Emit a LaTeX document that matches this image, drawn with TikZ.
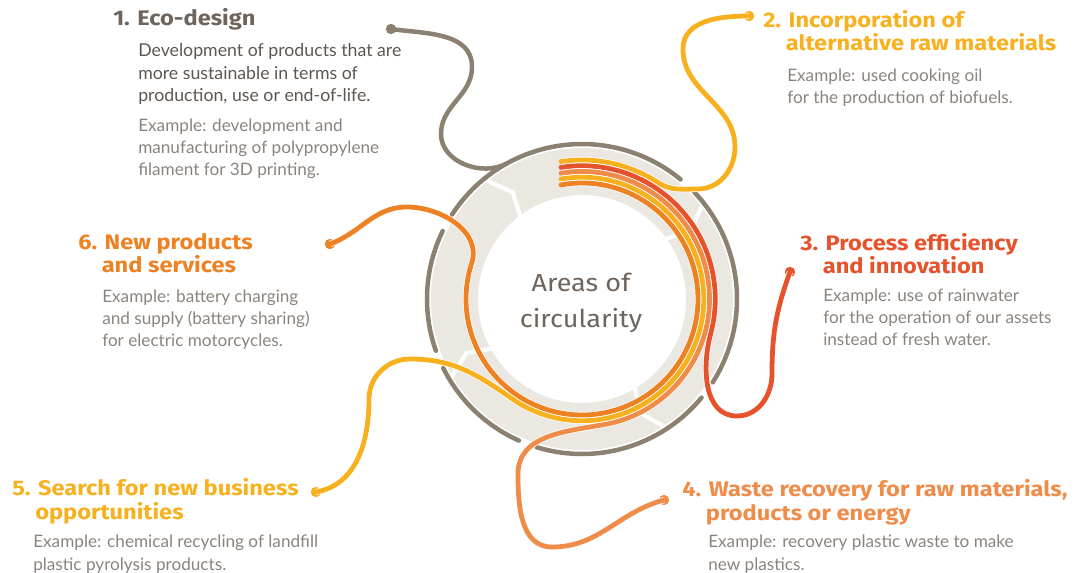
\documentclass[tikz,border=0pt]{standalone}
\usepackage{fontspec}
\setmainfont{Lato}
\newfontfamily\headfont[FakeStretch=1.12]{Fira Sans}
\newfontfamily\hubfont[FakeStretch=1.1]{Fira Sans}
\usetikzlibrary{calc}

\definecolor{ringGrey}{HTML}{8C8170}
\definecolor{bandBeige}{HTML}{EBE8E2}
\definecolor{lineYellow}{HTML}{F7B11F}
\definecolor{lineRed}{HTML}{E5522B}
\definecolor{lineLightOrange}{HTML}{F08C4A}
\definecolor{lineOrange}{HTML}{EE8122}
\definecolor{headGrey}{HTML}{6E645B}
\definecolor{textDark}{HTML}{5F564F}
\definecolor{textLight}{HTML}{8C837C}

\newcommand{\hangNum}[1]{\hphantom{#1 }\kern-2pt}

\begin{document}
\begin{tikzpicture}[
    x=0.025cm, y=0.025cm,
    ringArc/.style={
        draw=ringGrey,
        line width=3.2pt,
        line cap=round
    },
    flowLine/.style={
        line width=3.4pt,
        line cap=round,
        preaction={draw=white, line width=4.4pt}
    },
    endDot/.style={
        circle,
        inner sep=0pt,
        minimum size=0.26cm
    },
    heading/.style={
        anchor=base west,
        align=left,
        inner sep=0pt,
        font=\headfont\bfseries\fontsize{15pt}{16.5pt}\selectfont
    },
    bodyText/.style={
        anchor=base west,
        align=left,
        inner sep=0pt,
        text=textLight,
        font=\fontsize{12.2pt}{15.8pt}\selectfont
    },
    hubText/.style={
        align=center,
        text=headGrey,
        font=\hubfont\fontsize{17.5pt}{25.5pt}\selectfont
    }
]
\useasboundingbox (-582,-274) rectangle (506,299);

% ==================== CENTRE: BAND & RING ====================
\fill[bandBeige, even odd rule] (0,0) circle (151) (0,0) circle (104);
\foreach \t in {32,123,205,297}
    \draw[white, line width=3pt] (\t+6:153) -- (\t:127.5) -- (\t+4:102);
\foreach \a/\b in {50.5/147, 154/199.5, 206.5/246, 253/320.5, 327.5/403.5}
    \draw[ringArc] (\a:155) arc[start angle=\a, end angle=\b, radius=155];

\node[hubText] (hub) at (-1,-3.5) {Areas of\\circularity};

% ==================== END DOTS ====================
\node[endDot, fill=ringGrey] (dotEco) at (-191,270) {};
\node[endDot, fill=lineYellow] (dotRaw) at (167,283) {};
\node[endDot, fill=lineRed] (dotProcess) at (208,27) {};
\node[endDot, fill=lineLightOrange] (dotWaste) at (82,-201) {};
\node[endDot, fill=lineYellow] (dotBusiness) at (-266,-193) {};
\node[endDot, fill=lineOrange] (dotServices) at (-252,55) {};

\coordinate (ecoJoin) at (119:155);

% ==================== LEADER LINES ====================
\draw[ringArc] (dotEco.center) to[out=-8, in=90] (-110,232)
    to[out=-90, in=90] (-141,165) to[out=-90, in=209] (ecoJoin);

\draw[flowLine, draw=lineYellow] (98.7:139) arc[start angle=98.7, end angle=57, radius=139]
    to[out=-33, in=180] (116,110) to[out=0, in=-90] (153,152)
    to[out=90, in=-90] (101,250) to[out=90, in=180] (dotRaw.center);

\draw[flowLine, draw=lineRed] (99.07:133.25) arc[start angle=99.07, end angle=-15, radius=133.25]
    to[out=-105, in=180] (155,-117) to[out=0, in=-90] (190,-75)
    to[out=90, in=-110] (dotProcess.center);

\draw[flowLine, draw=lineLightOrange] (99.48:127.5) arc[start angle=99.48, end angle=-80, radius=127.5]
    to[out=-170, in=90] (-64,-175) to[out=-90, in=180] (-30,-248)
    to[out=0, in=195] (dotWaste.center);

\draw[flowLine, draw=lineYellow] (99.93:121.75) arc[start angle=99.93, end angle=-125, radius=121.75]
    to[out=145, in=0] (-172,-60) to[out=180, in=90] (-213,-100)
    to[out=-90, in=10] (dotBusiness.center);

\draw[flowLine, draw=lineOrange] (100.4:116) arc[start angle=100.4, end angle=-198, radius=116]
    to[out=72, in=0] (-175,92) to[out=180, in=20] (dotServices.center);

% ==================== TEXT BLOCKS ====================
\node[heading, text=headGrey] (headEco) at (-469,273) {1. Eco-design};
\node[bodyText, text=textDark, font=\fontsize{12.6pt}{16.3pt}\selectfont] (descEco) at (-444,197) {Development of products that are\\more sustainable in terms of\\production, use or end-of-life.};
\node[bodyText] (exEco) at (-444,123) {Example: development and\\manufacturing of polypropylene\\filament for 3D printing.};

\node[heading, text=lineYellow] (headRaw) at (181,248.5) {2. Incorporation of\\\hangNum{2.}alternative raw materials};
\node[bodyText] (exRaw) at (205,195) {Example: used cooking oil\\for the production of biofuels.};

\node[heading, text=lineRed] (headProcess) at (218,25.7) {3. Process efficiency\\\hangNum{3.}and innovation};
\node[bodyText] (exProcess) at (241,-47) {Example: use of rainwater\\for the operation of our assets\\instead of fresh water.};

\node[heading, text=lineLightOrange] (headWaste) at (100,-221) {4. Waste recovery for raw materials,\\\hangNum{4.}products or energy};
\node[bodyText] (exWaste) at (126,-271) {Example: recovery plastic waste to make\\new plastics.};

\node[heading, text=lineYellow] (headBusiness) at (-570,-220) {5. Search for new business\\\hangNum{5.}opportunities};
\node[bodyText] (exBusiness) at (-549,-271) {Example: chemical recycling of landfill\\plastic pyrolysis products.};

\node[heading, text=lineOrange] (headServices) at (-504,26) {6. New products\\\hangNum{6.}and services};
\node[bodyText] (exServices) at (-480,-48) {Example: battery charging\\and supply (battery sharing)\\for electric motorcycles.};

\end{tikzpicture}
\end{document}
